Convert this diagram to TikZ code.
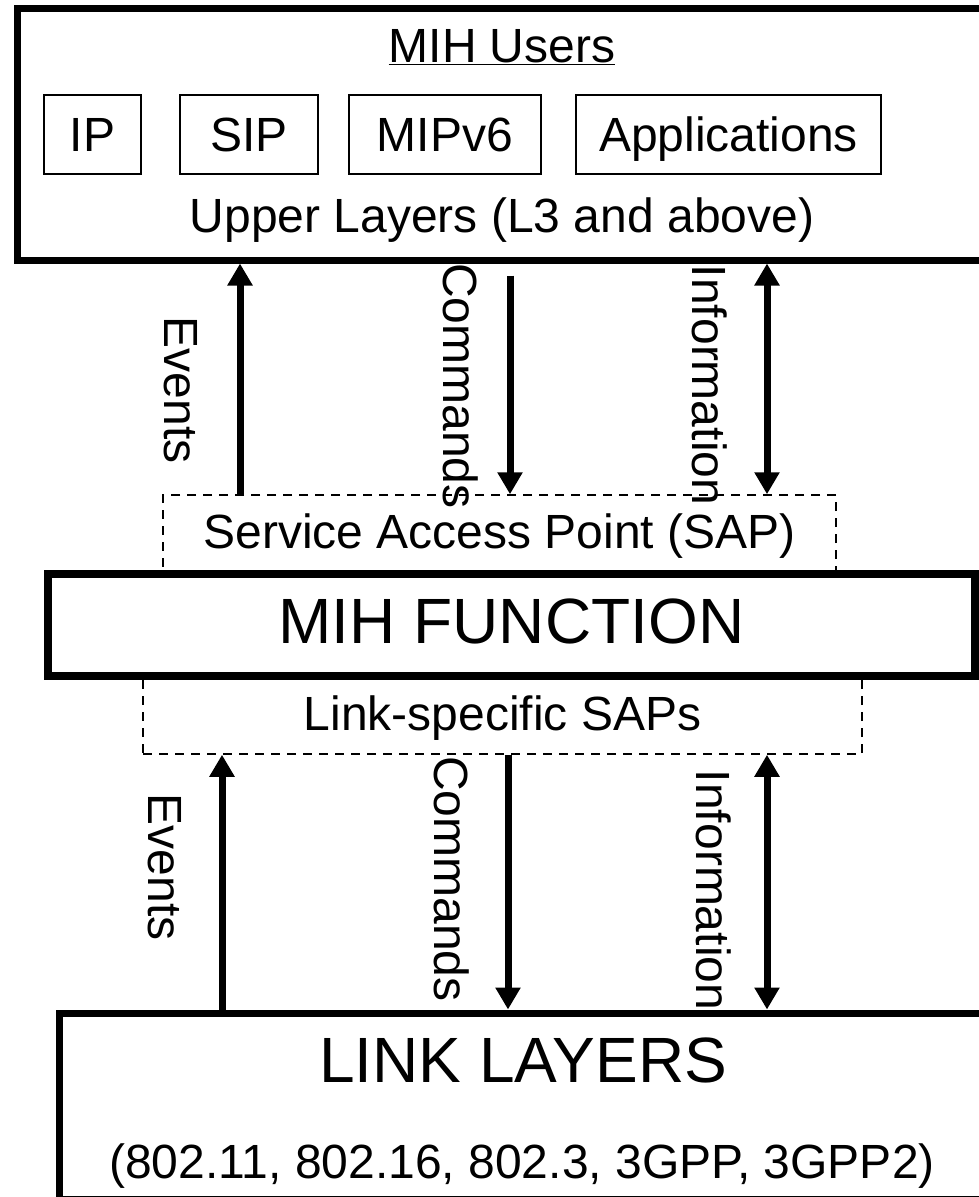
\documentclass[tikz,border=0pt]{standalone}
\usepackage{fontspec}
\setmainfont{Liberation Sans}
\usetikzlibrary{arrows.meta}
\tikzset{layerbox/.style={draw, line width=7pt, inner sep=0pt}}
\tikzset{userbox/.style={draw, line width=2.5pt, inner sep=0pt, minimum height=79, text height=34pt, text depth=0pt}}
\tikzset{sapbox/.style={draw, dash pattern=on 9pt off 7pt, line width=1.5pt, inner sep=0pt, text height=34pt}}
\tikzset{
  edgeup/.style={line width=7pt, -{Triangle[width=24pt,length=22pt]}},
  edgedown/.style={line width=7pt, -{Triangle[width=24pt,length=22pt]}},
  edgeboth/.style={line width=7pt, {Triangle[width=24pt,length=22pt]}-{Triangle[width=24pt,length=22pt]}},
  lbl/.style={rotate=-90, anchor=base, inner sep=0pt},
  txt/.style={anchor=base, inner sep=0pt}
}
\newcommand\txtbig{\fontsize{48pt}{56pt}\selectfont}
\newcommand\txthuge{\fontsize{64pt}{76pt}\selectfont}

\begin{document}
\begin{tikzpicture}[x=1pt, y=-1pt, font=\txtbig]
\useasboundingbox (0,0) rectangle (979,1197);
\clip (0,0) rectangle (979,1197);
% upper layers
\node[layerbox, minimum width=993, minimum height=252] (upper) at (513.5,134) {};
\node[txt] (users) at (502,62) {\underline{MIH Users}};
\node[userbox, minimum width=97] (ip) at (92.5,134.5) {IP};
\node[userbox, minimum width=138] (sip) at (249,134.5) {SIP};
\node[userbox, minimum width=192] (mip) at (445,134.5) {MIPv6};
\node[userbox, minimum width=305] (apps) at (728.5,134.5) {Applications};
\node[txt] (l3) at (502,232) {Upper Layers (L3 and above)};
% SAPs and MIH function
\node[sapbox, minimum width=673, minimum height=79, text depth=7pt] (sap) at (499.5,534.5) {Service Access Point (SAP)};
\node[sapbox, minimum width=719, minimum height=78, text depth=4pt] (lsap) at (502.5,715) {Link-specific SAPs};
\node[layerbox, line width=8pt, fill=white, minimum width=927, minimum height=102, text height=46pt, text depth=9pt, font=\txthuge] (mih) at (511.5,625) {MIH FUNCTION};
% link layers
\node[layerbox, minimum width=951, minimum height=186] (link) at (534.5,1106) {};
\node[txt, font=\txthuge] (ll) at (523,1082) {LINK LAYERS};
\node[txt] (std) at (522,1178) {(802.11, 802.16, 802.3, 3GPP, 3GPP2)};
% arrows
\coordinate (xev) at (240,0);
\coordinate (xcm) at (510,0);
\coordinate (xin) at (767,0);
\coordinate (xevl) at (222,0);
\coordinate (xcml) at (508,0);
\draw[edgeup] (sap.north -| xev) -- (upper.south -| xev);
\draw[edgedown, shorten <=12pt] (upper.south -| xcm) -- (sap.north -| xcm);
\draw[edgeboth] (upper.south -| xin) -- (sap.north -| xin);
\draw[edgeup] (link.north -| xevl) -- (lsap.south -| xevl);
\draw[edgedown] (lsap.south -| xcml) -- (link.north -| xcml);
\draw[edgeboth] (lsap.south -| xin) -- (link.north -| xin);
\node[lbl] (evup) at (164,390) {Events};
\node[lbl] (cmup) at (443,386) {Commands};
\node[lbl] (inup) at (692,385) {Information};
\node[lbl] (evlo) at (148,867) {Events};
\node[lbl] (cmlo) at (434,879) {Commands};
\node[lbl] (inlo) at (696,890) {Information};
\end{tikzpicture}
\end{document}
